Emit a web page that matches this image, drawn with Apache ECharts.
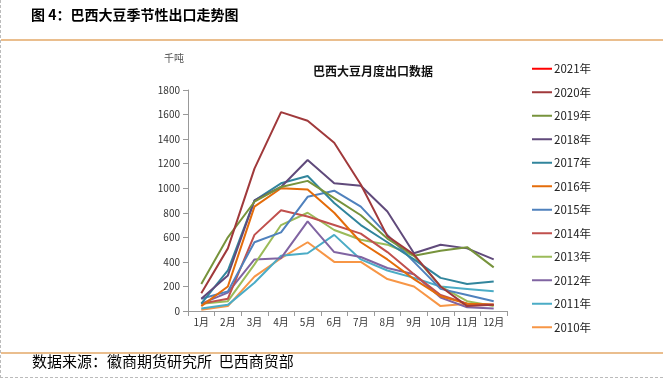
<!DOCTYPE html>
<html><head><meta charset="utf-8">
<script src="https://cdn.jsdelivr.net/npm/echarts@6/dist/echarts.min.js"></script>
<style>html,body{margin:0;padding:0;background:#fff;}#c{width:663px;height:378px;box-sizing:border-box;border-left:1px dashed #bbb;border-bottom:1px dashed #bbb;}</style>
</head><body><div id="c"></div>
<script>
const months = ['1月','2月','3月','4月','5月','6月','7月','8月','9月','10月','11月','12月'];
const yearNames = ['2021年','2020年','2019年','2018年','2017年','2016年','2015年','2014年','2013年','2012年','2011年','2010年'];
const colors = ['#FF0000','#A0393B','#77933C','#604A7B','#31859C','#E46C0A','#4F81BD','#C0504D','#9BBB59','#8064A2','#4BACC6','#F79646'];
const y2021 = [5,null,null,null,null,null,null,null,null,null,null,null];
const y2020 = [145,510,1160,1620,1550,1370,1030,610,460,200,40,50];
const y2019 = [220,600,890,1010,1060,920,780,590,450,490,520,355];
const y2018 = [100,290,900,1010,1230,1040,1020,810,470,540,510,420];
const y2017 = [60,330,900,1040,1100,880,700,560,420,270,220,240];
const y2016 = [40,200,850,1000,990,800,560,420,260,120,60,50];
const y2015 = [100,160,560,640,930,980,850,620,400,180,130,80];
const y2014 = [60,100,620,820,770,700,630,480,300,130,60,50];
const y2013 = [60,80,380,700,800,660,580,540,450,200,80,40];
const y2012 = [60,150,420,430,730,480,440,350,300,110,30,20];
const y2011 = [20,50,230,450,470,620,420,330,270,200,180,160];
const y2010 = [10,40,280,430,560,400,400,260,200,40,60,50];
const yTicks = [0,200,400,600,800,1000,1200,1400,1600,1800];

const allData = [y2021,y2020,y2019,y2018,y2017,y2016,y2015,y2014,y2013,y2012,y2011,y2010];
const chart = echarts.init(document.getElementById('c'), null, {renderer:'canvas'});
const FONT = '"Noto Sans CJK SC", sans-serif';
chart.setOption({
  animation:false,
  textStyle:{fontFamily:FONT},
  title:{text:'巴西大豆月度出口数据', left:367, top:60, textAlign:'center',
    textStyle:{fontSize:12, fontWeight:'bold', color:'#111', fontFamily:FONT}},
  graphic:[
    {type:'text', left:30, top:8, style:{text:'图 4：巴西大豆季节性出口走势图', fill:'#000', font:'bold 14px "Noto Sans CJK SC"'}},
    {type:'line', shape:{x1:0,y1:40,x2:663,y2:40}, style:{stroke:'#E3A869', lineWidth:1.5}},
    {type:'line', shape:{x1:0,y1:353,x2:663,y2:353}, style:{stroke:'#E3A869', lineWidth:1.5}},
    {type:'text', left:31, top:354, style:{text:'数据来源：徽商期货研究所  巴西商贸部', fill:'#000', font:'15px "Noto Sans CJK SC"'}},
    {type:'text', left:163, top:53, style:{text:'千吨', fill:'#555', font:'10px "Noto Sans CJK SC"'}}
  ],
  legend:{orient:'vertical', left:526, top:58, itemGap:12, itemWidth:20, itemHeight:14,
    icon:'path://M0,6 L20,6 L20,8 L0,8 Z',
    data:yearNames, textStyle:{fontSize:11.5, color:'#222', fontFamily:FONT, padding:[0,0,0,-3]}},
  grid:{left:187, right:156, top:90, bottom:66},
  xAxis:{type:'category', data:months, boundaryGap:true,
    axisLine:{lineStyle:{color:'#999'}}, axisTick:{show:true, lineStyle:{color:'#999'}},
    axisLabel:{fontSize:10, color:'#333', margin:6, interval:0}},
  yAxis:{type:'value', min:yTicks[0], max:yTicks[yTicks.length-1], interval:200,
    axisLine:{show:true, lineStyle:{color:'#999'}}, axisTick:{show:true, lineStyle:{color:'#999'}},
    splitLine:{show:false}, axisLabel:{fontSize:10, color:'#333', margin:8, formatter:v=>String(v)}},
  series: yearNames.map((n,i)=>({name:n, type:'line', data:allData[i], symbol:'none', showSymbol:false,
    lineStyle:{width:2, color:colors[i]}, itemStyle:{color:colors[i]}, z: 20-i}))
});
</script></body></html>
